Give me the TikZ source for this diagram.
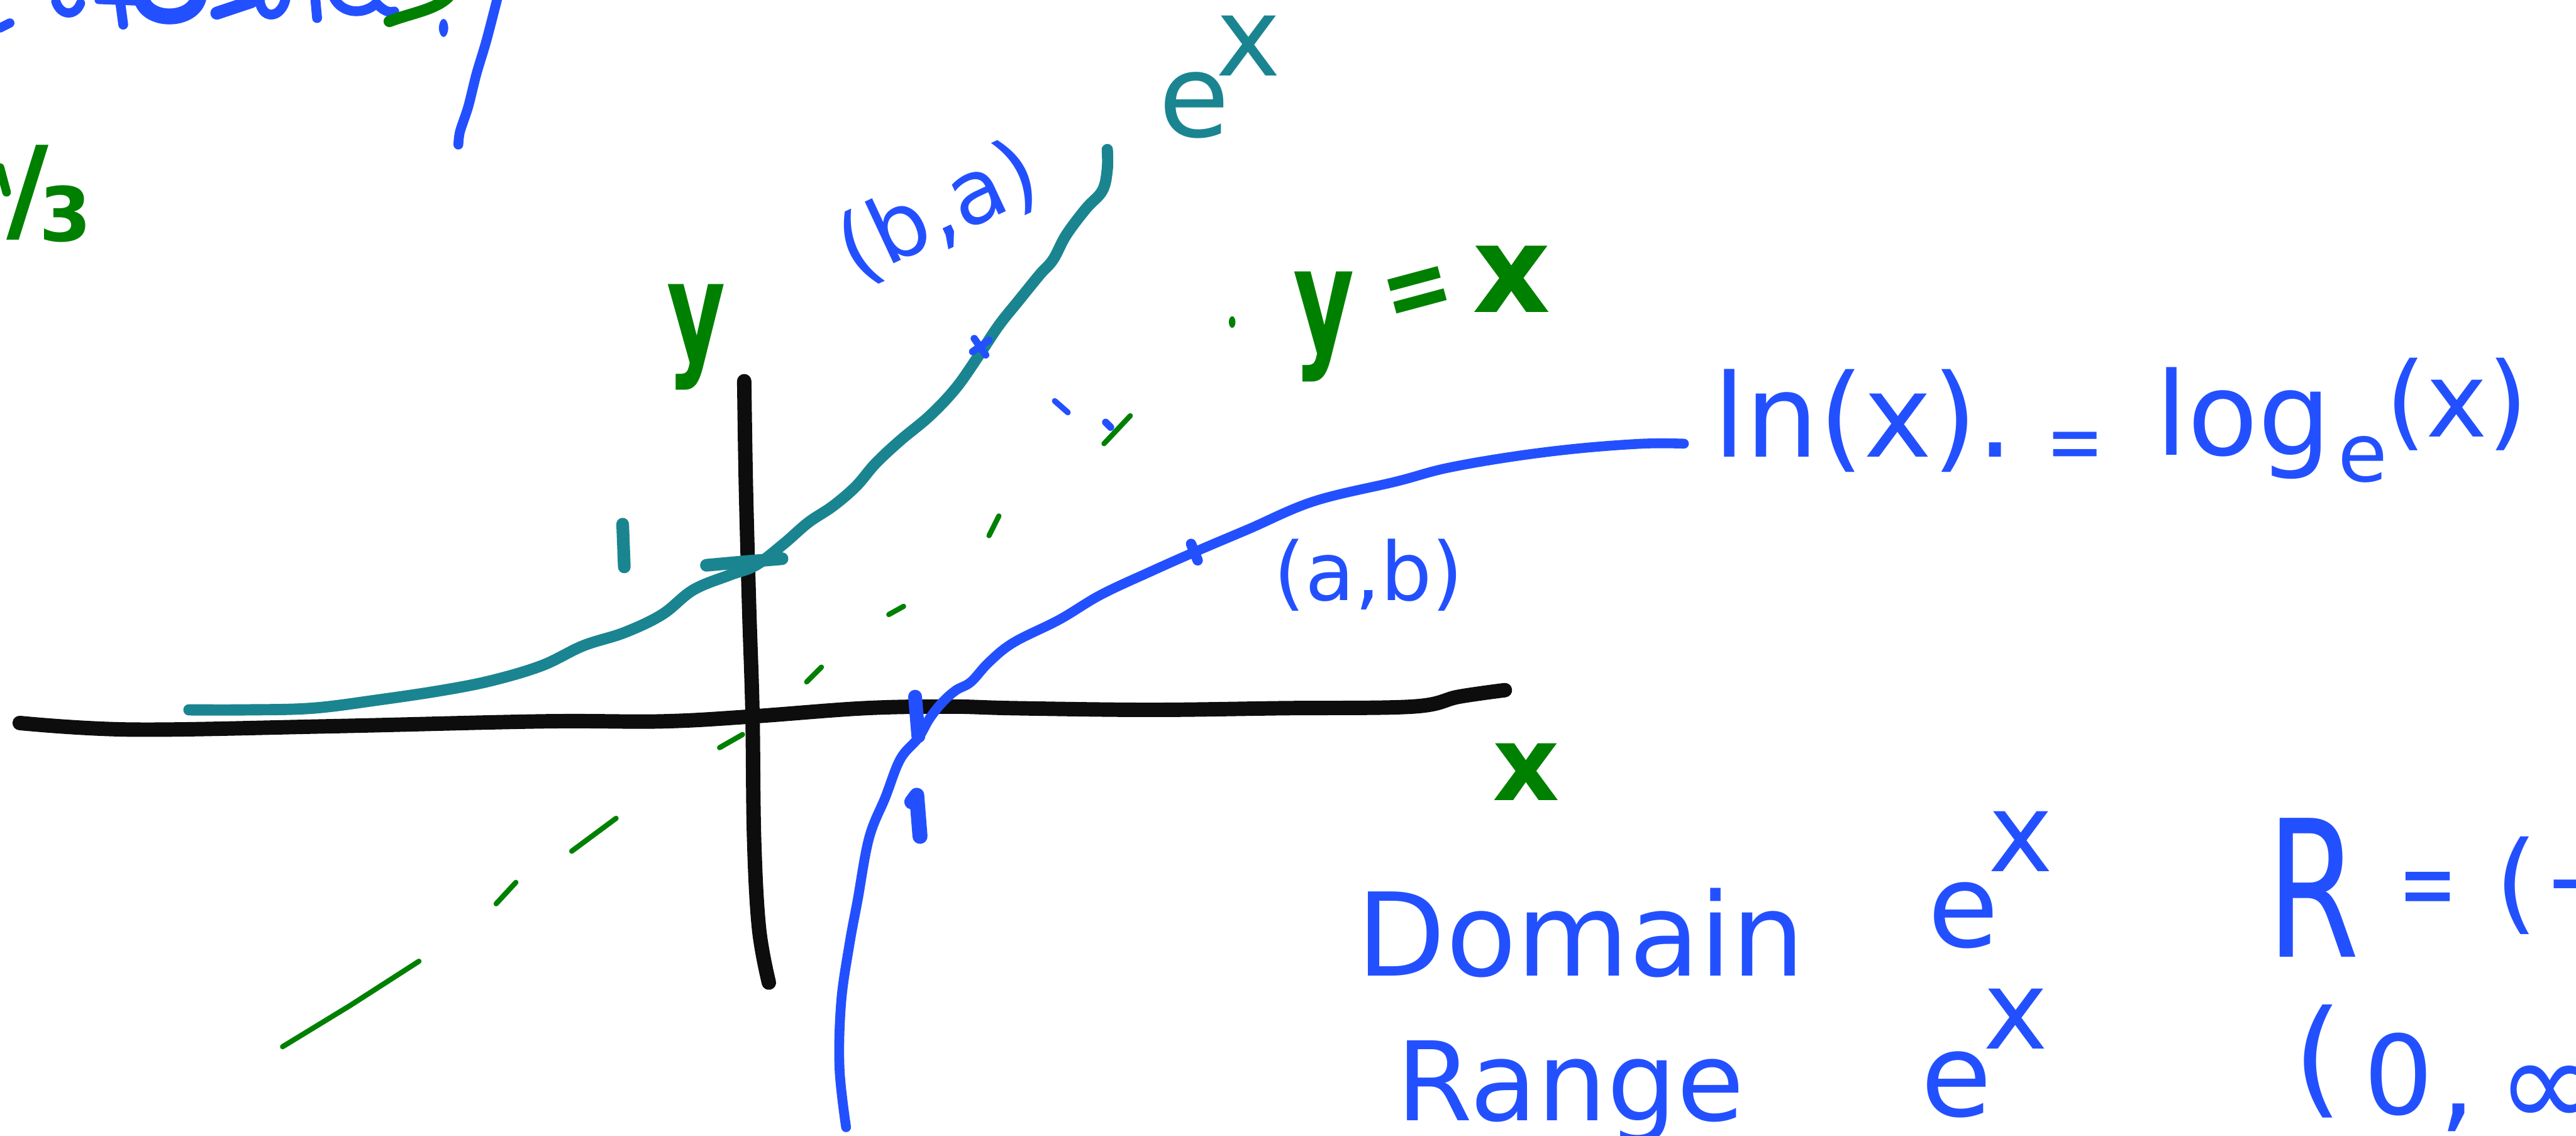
\documentclass[tikz,border=0pt]{standalone}
\usepackage{fontspec}
\setmainfont{DejaVu Sans}
\usepackage{graphicx}
\definecolor{inkblue}{RGB}{35,80,255}
\definecolor{inkteal}{RGB}{26,133,144}
\definecolor{inkgreen}{RGB}{0,128,0}
\definecolor{inkblack}{RGB}{13,13,13}
\newcommand{\fs}[1]{\fontsize{#1}{#1}\selectfont}
\newcommand{\sq}[2]{\scalebox{#1}[1]{#2}}
\begin{document}
\begin{tikzpicture}[x=0.02cm,y=-0.02cm,line cap=round,line join=round,
  axisline/.style={draw=inkblack,line width=5pt},
  expcurve/.style={draw=inkteal,line width=3.9pt},
  lncurve/.style={draw=inkblue,line width=3.4pt},
  idline/.style={draw=inkgreen,line width=1.8pt},
  bluestroke/.style={draw=inkblue,line width=#1},
  tealstroke/.style={draw=inkteal,line width=#1},
  greenstroke/.style={draw=inkgreen,line width=#1},
  txt/.style={inner sep=0pt,outer sep=0pt},
  bluetxt/.style={txt,text=inkblue},
  greentxt/.style={txt,text=inkgreen,font=\bfseries},
  tealtxt/.style={txt,text=inkteal}]
\path[fill=white,use as bounding box] (0,0) rectangle (1568,691);
\clip (0,0) rectangle (1568,691);

% ---- cut-off writing at the top left
\draw[bluestroke=3.2pt] (0,17)--(6,14);
\draw[bluestroke=3.2pt] (34,1) .. controls (37,10) and (46,10) .. (49,2);
\draw[bluestroke=2.8pt] (60,0)--(85,1);
\draw[bluestroke=3.4pt] (73,0)--(75,15);
\draw[bluestroke=5.5pt] (86,-2) .. controls (88,14) and (118,14) .. (121,-2);
\draw[bluestroke=4.5pt] (132,8)--(153,1);
\draw[bluestroke=3.4pt] (158,-2) .. controls (158,13) and (172,12) .. (174,-2);
\draw[bluestroke=3.4pt] (192,0)--(193,11);
\draw[bluestroke=3.4pt] (203,-2) .. controls (208,9) and (222,9) .. (229,2) .. controls (233,6) and (236,8) .. (240,7);
\draw[greenstroke=4pt] (237,13) .. controls (250,8) and (265,6) .. (273,-2);
\fill[inkblue] (270,17) ellipse (2.8 and 5.5);
\draw[bluestroke=3.4pt] plot[smooth] coordinates {(303,-2) (296,25) (290,45) (285,65) (280,80) (279,88)};
\draw[greenstroke=3pt] (0,102)--(4,117);
\node[greentxt] (slash) at (17,117) {\fs{40}/};
\node[greentxt] (three) at (40,130) {\fs{26}3};

% ---- axes
\draw[axisline] plot[smooth,tension=0.6] coordinates {(12,440) (80,444) (200,442) (330,439) (403,439) (458,436) (526,431) (578,430) (618,431) (700,432) (780,431) (860,430) (888,424) (916,420)};
\draw[axisline] plot[smooth,tension=0.6] coordinates {(453,232) (454,295) (456,370) (458,433) (459,510) (462,565) (468,598)};

% ---- y = x (green dashes)
\draw[idline] (172,637)--(213,612)--(255,585);
\draw[idline] (302,550)--(314,537);
\draw[idline] (348,518)--(375,498);
\draw[idline] (438,455)--(452,447);
\draw[idline] (491,415)--(500,406);
\draw[idline] (541,374)--(550,369);
\draw[idline] (602,326)--(608,314);
\draw[idline] (672,270)--(688,253);
\fill[inkgreen] (750,196) ellipse (2 and 3.5);
\draw[bluestroke=2pt] (642,244)--(650,251);
\draw[bluestroke=2.5pt] (673,257)--(676,260);

% ---- e^x (teal)
\draw[expcurve] plot[smooth,tension=0.6] coordinates {(115,432) (150,432) (190,431) (230,426) (270,420) (300,414) (330,405) (355,393) (380,385) (403,374) (422,359) (444,350) (460,344) (477,331) (492,318) (507,308) (521,296) (533,282) (548,268) (566,253) (582,236) (596,216) (608,198) (620,183) (633,167) (641,158) (649,143) (661,127) (671,116) (674,103) (674,91)};
\draw[tealstroke=4.4pt] (430,344)--(452,342)--(476,340);
\draw[tealstroke=4.4pt] (379,319)--(380,345);
\draw[bluestroke=2.5pt] (593,206)--(600,216);
\draw[bluestroke=2.5pt] (592,214)--(602,207);

% ---- ln(x) (blue)
\draw[lncurve] plot[smooth,tension=0.6] coordinates {(515,686) (511,650) (512,610) (517,575) (522,548) (529,510) (539,485) (548,462) (559,449) (566,437) (574,427) (582,420) (591,415) (602,403) (617,391) (645,377) (670,362) (700,348) (727,336) (760,322) (800,305) (850,293) (880,285) (920,278) (960,273) (1000,270) (1025,270)};
\draw[bluestroke=4.8pt] (557,424)--(559,448);
\draw[bluestroke=5.2pt] (555,488)--(558,484)--(560,509);
\draw[bluestroke=3.6pt] (725,331)--(729,341);

% ---- labels
\node[tealtxt] (e1) at (727,64) {\fs{40}e};
\node[tealtxt] (x1) at (760,28) {\fs{38}x};
\node[bluetxt,rotate=25] (ba) at (571,129) {\fs{31}(b,a)};
\node[bluetxt] (ab) at (833,350) {\fs{28}(a,b)};
\node[greentxt] (ylab) at (424,205) {\fs{48}\sq{0.65}{y}};
\node[greentxt] (xlab) at (929,470) {\fs{36}x};
\node[greentxt] (yx1) at (806,199) {\fs{50}\sq{0.65}{y}};
\node[greentxt,rotate=15] (yx2) at (864,181) {\fs{36}\sq{0.8}{=}};
\node[greentxt] (yx3) at (920,170) {\fs{42}x};

\node[bluetxt,anchor=base west] (ln) at (1043,278) {\fs{40}ln(x).};
\node[bluetxt] (eq1) at (1263,275) {\fs{30}\sq{0.8}{=}};
\node[bluetxt,anchor=base west] (log) at (1312,277) {\fs{40}log};
\node[bluetxt,anchor=base west] (sube) at (1423,293) {\fs{28}e};
\node[bluetxt,anchor=base west] (argx) at (1452,266) {\fs{36}(x)};

\node[bluetxt,anchor=base west] (dom) at (826,594) {\fs{40}Domain};
\node[bluetxt] (e2) at (1195,557) {\fs{40}e};
\node[bluetxt] (x2) at (1230,512) {\fs{38}x};
\node[bluetxt] (bigR) at (1408,540) {\fs{66}\sq{0.7}{R}};
\node[bluetxt] (eq2) at (1478,545) {\fs{36}\sq{0.68}{=}};
\node[bluetxt] (par1) at (1532,539) {\fs{38}(};
\node[bluetxt,anchor=west] (rest1) at (1548,538) {\fs{36}−∞,∞)};

\node[bluetxt,anchor=base west] (rng) at (850,682) {\fs{38}Range};
\node[bluetxt] (e3) at (1191,660) {\fs{40}e};
\node[bluetxt] (x3) at (1227,620) {\fs{38}x};
\node[bluetxt] (par2) at (1411,646) {\fs{44}(};
\node[bluetxt] (zero) at (1460,654) {\fs{38}0};
\node[bluetxt] (comma) at (1496,680) {\fs{40},};
\node[bluetxt,anchor=west] (inf) at (1520,662) {\fs{44}∞)};
\end{tikzpicture}
\end{document}
